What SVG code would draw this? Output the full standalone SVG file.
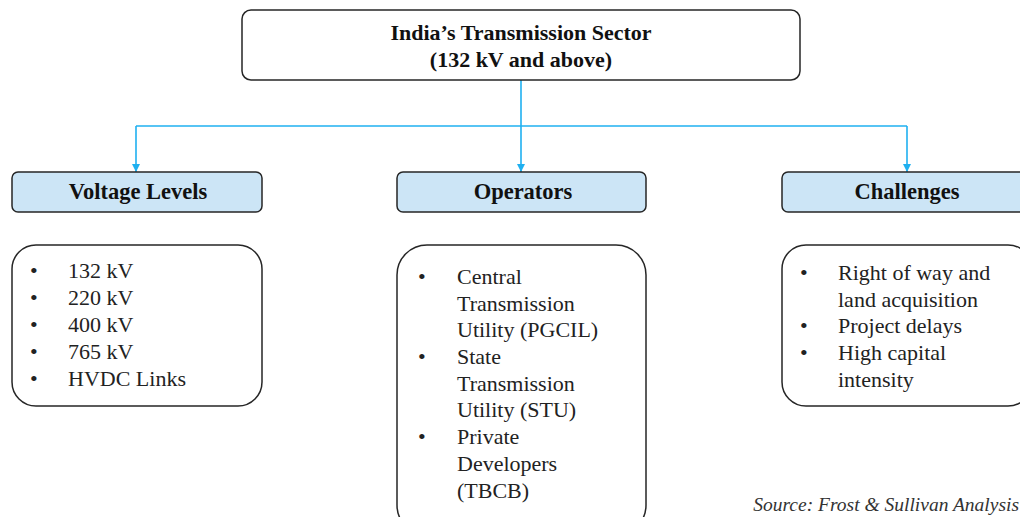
<svg xmlns="http://www.w3.org/2000/svg" width="1020" height="517" viewBox="0 0 1020 517">
  <style>
    .box { fill: #ffffff; stroke: #262626; stroke-width: 1.5; }
    .head { fill: #cce5f6; stroke: #262626; stroke-width: 1.5; }
    .title { font-weight: bold; font-size: 22px; fill: #111; text-anchor: middle; }
    .label { font-weight: bold; font-size: 22.5px; fill: #111; text-anchor: middle; }
    .item { font-size: 22px; fill: #222; }
    .src { font-style: italic; font-size: 19.5px; fill: #333; text-anchor: end; }
    .link { fill: none; stroke: #1fb0f0; stroke-width: 1.6; }
  </style>
  <defs>
    <marker id="arrow" viewBox="0 0 10 10" refX="10" refY="5" markerWidth="5" markerHeight="5" orient="auto" markerUnits="strokeWidth">
      <path d="M0,0 L10,5 L0,10 Z" fill="#1fb0f0"/>
    </marker>
  </defs>

  <!-- tree links from the sector box down to the three category headers -->
  <g id="connectors">
    <path class="link" d="M521,80 V126"/>
    <path class="link" d="M136,126 H907"/>
    <path class="link" d="M136,126 V172" marker-end="url(#arrow)"/>
    <path class="link" d="M521,126 V172" marker-end="url(#arrow)"/>
    <path class="link" d="M907,126 V172" marker-end="url(#arrow)"/>
  </g>

  <g font-family="Liberation Serif, Times New Roman, serif">
  <g id="root">
    <rect class="box" x="242" y="10" width="558" height="70" rx="9"/>
    <text class="title" x="521" y="40">India’s Transmission Sector</text>
    <text class="title" x="521" y="67">(132 kV and above)</text>
  </g>

  <g id="voltage-levels">
    <rect class="head" x="12" y="172" width="250" height="40" rx="6"/>
    <text class="label" x="138" y="199">Voltage Levels</text>
  </g>
  <g id="operators">
    <rect class="head" x="397" y="172" width="249" height="40" rx="6"/>
    <text class="label" x="523" y="199">Operators</text>
  </g>
  <g id="challenges">
    <rect class="head" x="782" y="172" width="250" height="40" rx="6"/>
    <text class="label" x="907" y="199">Challenges</text>
  </g>

  <g id="voltage-list">
    <rect class="box" x="12" y="245" width="250" height="161" rx="24"/>
    <g class="item">
      <text x="30" y="278">•</text><text x="68" y="278">132 kV</text>
      <text x="30" y="305">•</text><text x="68" y="305">220 kV</text>
      <text x="30" y="332">•</text><text x="68" y="332">400 kV</text>
      <text x="30" y="359">•</text><text x="68" y="359">765 kV</text>
      <text x="30" y="386">•</text><text x="68" y="386">HVDC Links</text>
    </g>
  </g>

  <g id="operators-list">
    <rect class="box" x="397" y="245" width="249" height="290" rx="30"/>
    <g class="item">
      <text x="418" y="284">•</text><text x="457" y="284">Central</text>
      <text x="457" y="311">Transmission</text>
      <text x="457" y="337">Utility (PGCIL)</text>
      <text x="418" y="364">•</text><text x="457" y="364">State</text>
      <text x="457" y="391">Transmission</text>
      <text x="457" y="417">Utility (STU)</text>
      <text x="418" y="444">•</text><text x="457" y="444">Private</text>
      <text x="457" y="471">Developers</text>
      <text x="457" y="498">(TBCB)</text>
    </g>
  </g>

  <g id="challenges-list">
    <rect class="box" x="782" y="245" width="250" height="161" rx="24"/>
    <g class="item">
      <text x="800" y="280">•</text><text x="838" y="280">Right of way and</text>
      <text x="838" y="307">land acquisition</text>
      <text x="800" y="333">•</text><text x="838" y="333">Project delays</text>
      <text x="800" y="360">•</text><text x="838" y="360">High capital</text>
      <text x="838" y="387">intensity</text>
    </g>
  </g>

  <text class="src" x="1019" y="511">Source: Frost &amp; Sullivan Analysis</text>
  </g>
</svg>
